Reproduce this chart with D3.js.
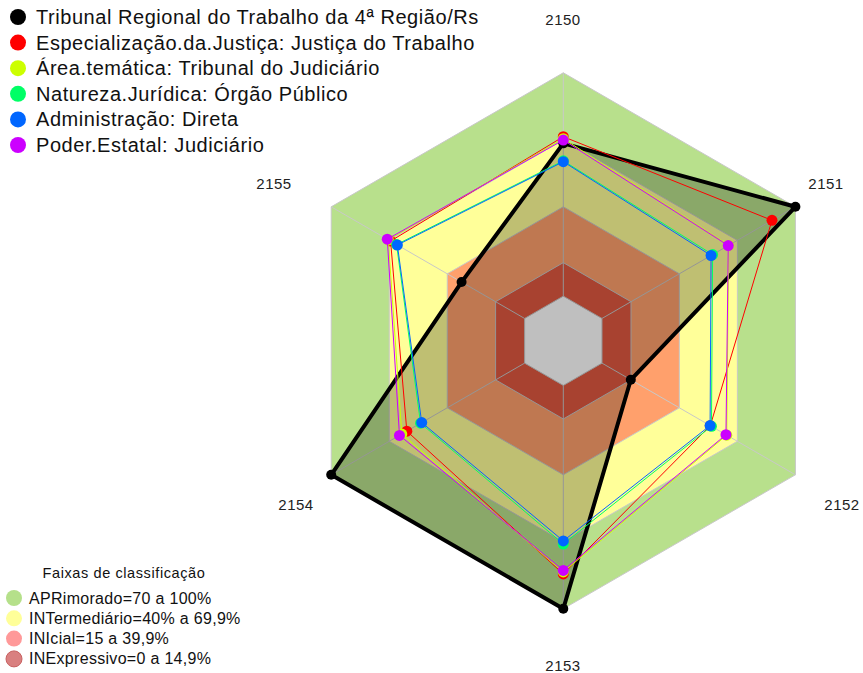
<!DOCTYPE html>
<html>
<head>
<meta charset="utf-8">
<script src="https://cdn.jsdelivr.net/npm/d3@7"></script>
<style>
  body { margin: 0; background: #fff; }
  text { font-family: "Liberation Sans", Arial, sans-serif; }
</style>
</head>
<body>
<div id="chart-area"></div>
<script>
// axes (clockwise from the top)
var axes = ["2150", "2151", "2152", "2153", "2154", "2155"];

var seriesNames = [
  "Tribunal Regional do Trabalho da 4ª Região/Rs",
  "Especialização.da.Justiça: Justiça do Trabalho",
  "Área.temática: Tribunal do Judiciário",
  "Natureza.Jurídica: Órgão Público",
  "Administração: Direta",
  "Poder.Estatal: Judiciário"
];
var seriesColors = ["#000000", "#ff0000", "#ccff00", "#00ff66", "#0066ff", "#cc00ff"];

var tribunal   = [68.4, 100, 14.9, 100, 100, 32.6];
var especial   = [71.4, 87.9, 56.0, 84.4, 60.9, 69.3];
var tematica   = [70.5, 65.5, 64.5, 83.5, 63.5, 70.5];
var natureza   = [60.6, 57.2, 56.6, 71.0, 53.8, 66.2];
var administra = [60.2, 56.4, 55.9, 69.6, 53.2, 65.8];
var poder      = [69.9, 65.3, 64.1, 82.8, 64.7, 71.0];
var seriesValues = [tribunal, especial, tematica, natureza, administra, poder];

// classification bands
var bandNames = ["APRimorado=70 a 100%", "INTermediário=40% a 69,9%", "INIcial=15 a 39,9%", "INExpressivo=0 a 14,9%"];
var bandTops = [100, 70, 40, 15];
var bandFills = ["#b8e08c", "#ffff99", "#ffa06c", "#e05840"];
var bandLegendFills = ["#b5e08a", "#ffff99", "#ff9999", "#d98080"];

var width = 863, height = 673;
var cx = 563.3, cy = 340.8, R = 268;

var svg = d3.select("#chart-area").append("svg")
    .attr("width", width)
    .attr("height", height);

var r = d3.scaleLinear().domain([-20, 100]).range([0, R]);
var angle = d3.scaleLinear().domain([0, axes.length]).range([0, 2 * Math.PI]);

function pt(i, v) {
    var a = angle(i) - Math.PI / 2;
    return [cx + r(v) * Math.cos(a), cy + r(v) * Math.sin(a)];
}
function ring(v) {
    return axes.map(function(d, i) { return pt(i, v); });
}
var line = d3.line().curve(d3.curveLinearClosed);

// bands
svg.selectAll("path.band")
    .data(bandTops.concat([0]))
    .enter()
    .append("path")
    .attr("class", "band")
    .attr("d", function(d) { return line(ring(d)); })
    .attr("fill", function(d, i) { return i < bandFills.length ? bandFills[i] : "#ffffff"; })
    .attr("stroke", "#c8c8c8")
    .attr("stroke-width", 1);

// spokes
svg.selectAll("line.spoke")
    .data(axes)
    .enter()
    .append("line")
    .attr("class", "spoke")
    .attr("x1", function(d, i) { return pt(i, 0)[0]; })
    .attr("y1", function(d, i) { return pt(i, 0)[1]; })
    .attr("x2", function(d, i) { return pt(i, 100)[0]; })
    .attr("y2", function(d, i) { return pt(i, 100)[1]; })
    .attr("stroke", "#c8c8c8")
    .attr("stroke-width", 1);

// axis labels
var labelPos = [[563, 25], [826, 189], [842, 510], [563, 671], [296, 510], [274, 189]];
svg.selectAll("text.axis")
    .data(axes)
    .enter()
    .append("text")
    .attr("class", "axis")
    .attr("x", function(d, i) { return labelPos[i][0]; })
    .attr("y", function(d, i) { return labelPos[i][1]; })
    .attr("text-anchor", "middle")
    .attr("font-size", "15px")
    .attr("letter-spacing", "0.5px")
    .attr("fill", "#222")
    .text(function(d) { return d; });

// series
seriesValues.forEach(function(vals, s) {
    var pts = vals.map(function(v, i) { return pt(i, v); });
    svg.append("path")
        .attr("d", line(pts))
        .attr("fill", s == 0 ? "rgba(0,0,0,0.25)" : "none")
        .attr("stroke", seriesColors[s])
        .attr("stroke-width", s == 0 ? 4 : 1)
        .attr("stroke-linejoin", "round");
    svg.selectAll("circle.s" + s)
        .data(pts)
        .enter()
        .append("circle")
        .attr("class", "s" + s)
        .attr("cx", function(d) { return d[0]; })
        .attr("cy", function(d) { return d[1]; })
        .attr("r", s == 0 ? 5 : 5.5)
        .attr("fill", seriesColors[s]);
});

// series legend
var leg = svg.selectAll("g.leg")
    .data(seriesNames)
    .enter()
    .append("g")
    .attr("class", "leg")
    .attr("transform", function(d, i) { return "translate(18," + (17 + i * 25.6) + ")"; });
leg.append("circle")
    .attr("r", 8)
    .attr("fill", function(d, i) { return seriesColors[i]; });
leg.append("text")
    .attr("x", 18)
    .attr("y", 7)
    .attr("font-size", "20px")
    .attr("letter-spacing", "0.55px")
    .attr("fill", "#111")
    .text(function(d) { return d; });

// bands legend
svg.append("text")
    .attr("x", 124)
    .attr("y", 578)
    .attr("text-anchor", "middle")
    .attr("font-size", "14.5px")
    .attr("letter-spacing", "0.6px")
    .attr("fill", "#111")
    .text("Faixas de classificação");

var bleg = svg.selectAll("g.bleg")
    .data(bandNames)
    .enter()
    .append("g")
    .attr("class", "bleg")
    .attr("transform", function(d, i) { return "translate(14," + (598 + i * 20.3) + ")"; });
bleg.append("circle")
    .attr("r", 8)
    .attr("fill", function(d, i) { return bandLegendFills[i]; })
    .attr("stroke", function(d, i) { return i == 3 ? "#c86060" : "none"; });
bleg.append("text")
    .attr("x", 15)
    .attr("y", 5.5)
    .attr("font-size", "16px")
    .attr("letter-spacing", "0.3px")
    .attr("fill", "#111")
    .text(function(d) { return d; });
</script>
</body>
</html>
